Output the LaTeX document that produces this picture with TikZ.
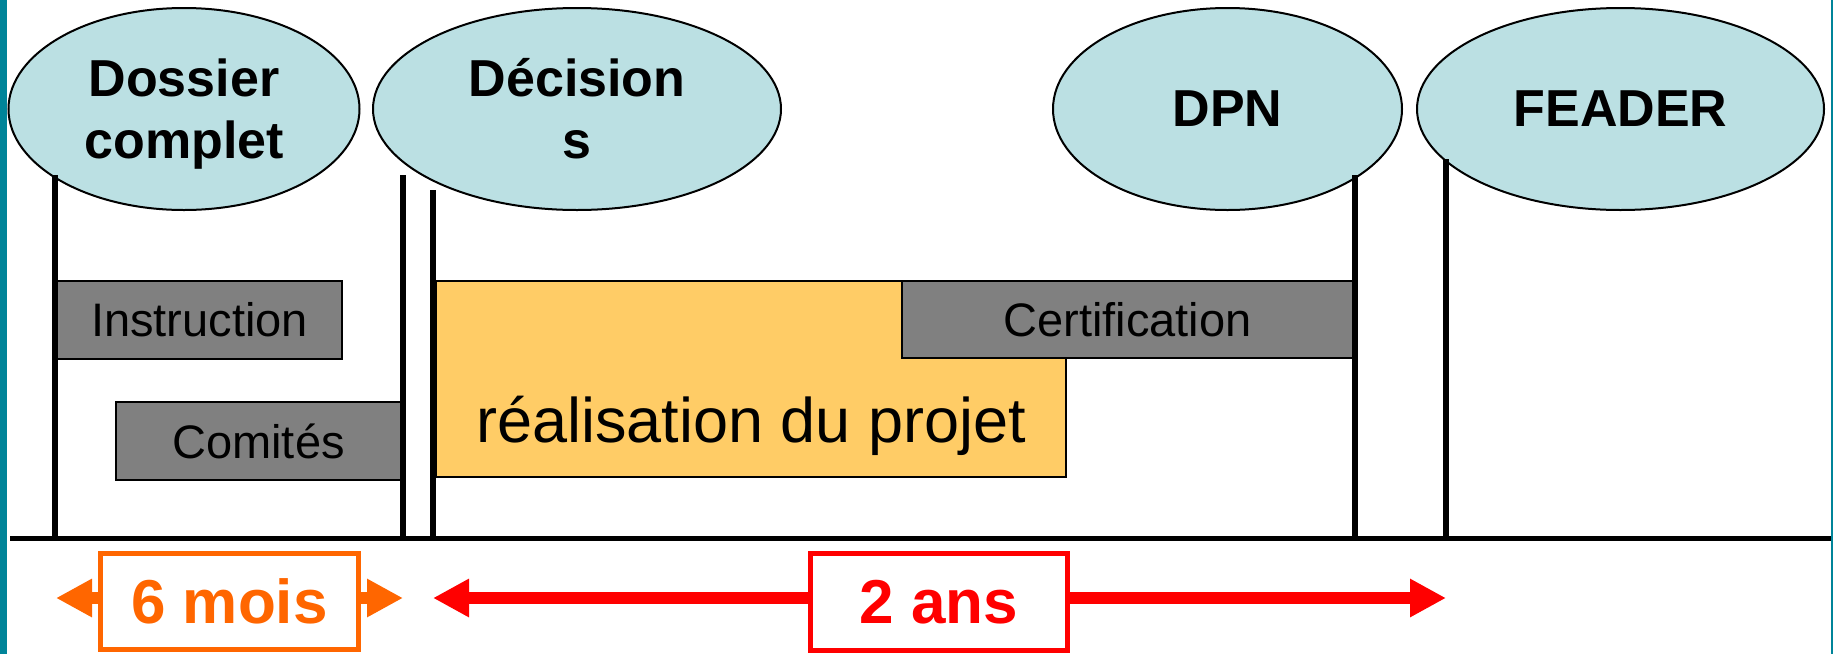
\documentclass[tikz,border=0pt]{standalone}
\usepackage{fontspec}
\setmainfont{Liberation Sans}
\usetikzlibrary{shapes.geometric,arrows.meta}
\definecolor{tealbar}{RGB}{0,132,153}
\definecolor{ellfill}{RGB}{187,224,227}
\definecolor{graybox}{RGB}{128,128,128}
\definecolor{orangefill}{RGB}{255,204,102}
\definecolor{orangeline}{RGB}{255,102,0}
\definecolor{redline}{RGB}{255,0,0}
\begin{document}
\begin{tikzpicture}[x=1pt,y=-1pt,
  milestone/.style={ellipse, draw=black, line width=2pt, fill=ellfill, inner sep=0pt,
    align=center, font=\fontsize{52}{62}\selectfont\bfseries},
  taskbox/.style={rectangle, draw=black, line width=2.5pt, fill=graybox, inner sep=0pt,
    font=\fontsize{47}{56}\selectfont},
  workbox/.style={rectangle, draw=black, line width=2pt, fill=orangefill, inner sep=0pt},
  marker/.style={line width=6pt},
  axisline/.style={line width=5pt},
  durbox/.style={rectangle, line width=5pt, fill=white, inner sep=0pt,
    font=\fontsize{62}{74}\selectfont\bfseries},
  durarrow/.style={line width=12pt, -{Triangle[length=36pt,width=36pt]}},
]
\useasboundingbox (0,0) rectangle (1833,654);
\fill[white] (0,0) rectangle (1833,654);
\fill[tealbar] (0,0) rectangle (7,654);
\fill[tealbar] (1831,0) rectangle (1833,654);

% milestones
\node[milestone, minimum width=351pt, minimum height=202pt] (dossier) at (184,109)
  {Dossier\\\raisebox{0pt}[\height][0pt]{complet}};
\node[milestone, minimum width=408pt, minimum height=202pt] (decision) at (577,109)
  {Décision\\s};
\node[milestone, minimum width=349pt, minimum height=202pt] (dpn) at (1227.5,109) {DPN};
\node[milestone, minimum width=407pt, minimum height=202pt] (feader) at (1620.5,109) {FEADER};

% tasks
\node[taskbox, minimum width=285pt, minimum height=78pt] (instr) at (199.5,320) {Instruction};
\node[taskbox, minimum width=285pt, minimum height=78pt] (comites) at (258.5,441) {Comités};
\node[workbox, minimum width=630pt, minimum height=196pt] (realis) at (751,379) {};
\node[font=\fontsize{63}{75}\selectfont, anchor=base, inner sep=0pt] (realtext) at (751,442)
  {réalisation du projet};
\node[taskbox, minimum width=451pt, minimum height=77pt] (certif) at (1127.5,319.5) {Certification};

% timeline markers
\coordinate (m1t) at (55,175);   \coordinate (m1b) at (55,538);
\coordinate (m2t) at (403,175);  \coordinate (m2b) at (403,538);
\coordinate (m3t) at (433,190);  \coordinate (m3b) at (433,538);
\coordinate (m4t) at (1355,175); \coordinate (m4b) at (1355,538);
\coordinate (m5t) at (1446,159); \coordinate (m5b) at (1446,538);
\foreach \m in {m1,m2,m3,m4,m5} \draw[marker] (\m t) -- (\m b);

% axis
\coordinate (axl) at (10,538);
\coordinate (axr) at (1831,538);
\draw[axisline] (axl) -- (axr);

% durations
\node[durbox, draw=orangeline, text=orangeline, minimum width=258pt, minimum height=96pt]
  (sixmois) at (229.5,601.5) {6 mois};
\coordinate (sixL) at (56,598);
\coordinate (sixR) at (403,598);
\draw[durarrow, orangeline] (sixmois.west |- sixL) -- (sixL);
\draw[durarrow, orangeline] (sixmois.east |- sixR) -- (sixR);

\node[durbox, draw=redline, text=redline, minimum width=257pt, minimum height=97pt]
  (deuxans) at (939,602) {2 ans};
\coordinate (twoL) at (433,598);
\coordinate (twoR) at (1446,598);
\draw[durarrow, redline] (deuxans.west |- twoL) -- (twoL);
\draw[durarrow, redline] (deuxans.east |- twoR) -- (twoR);
\end{tikzpicture}
\end{document}
